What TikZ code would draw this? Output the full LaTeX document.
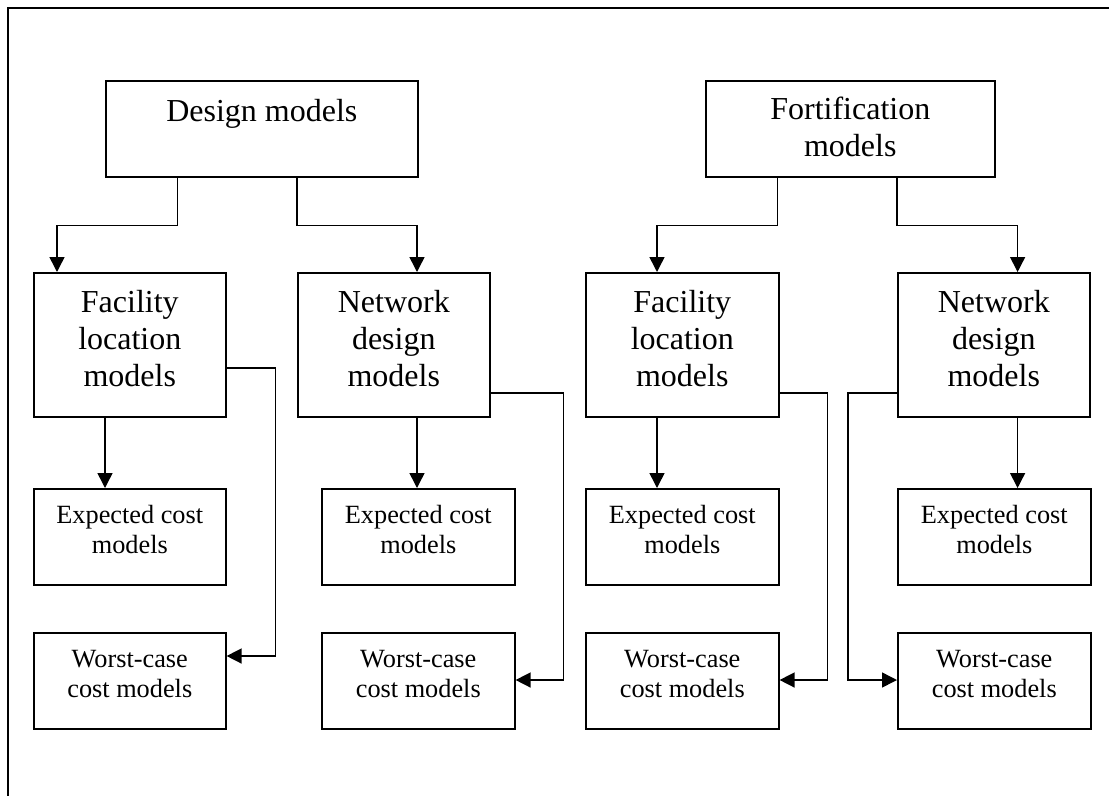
\documentclass[tikz,border=0pt]{standalone}
\usepackage{fontspec}
\setmainfont{Liberation Serif}
\usetikzlibrary{arrows.meta,calc}
% box contents: width, height, depth of first baseline below the top, text
\newcommand{\boxlines}[4]{\parbox[c][#2][t]{#1}{\centering\rule{0pt}{#3}#4}}
\begin{document}
\begin{tikzpicture}[x=1pt,y=-1pt,
  frame/.style={line width=1.6pt},
  box/.style={draw, line width=1.6pt, inner sep=0pt, anchor=north west},
  big/.style={box, font=\fontsize{32}{37}\selectfont},
  small/.style={box, font=\fontsize{26.3}{30}\selectfont},
  link/.style={line width=1.5pt, -{Triangle[length=15pt,width=15pt]}},
]
\useasboundingbox (0,0) rectangle (1109,796);

% outer frame
\draw[frame] (1109,8) -- (8,8) -- (8,796);

% top level
\node[big] (design) at (105,80) {\boxlines{312pt}{96pt}{40.7pt}{Design models}};
\node[big] (fort)   at (705,80) {\boxlines{289pt}{96pt}{39pt}{Fortification\\models}};

% second level
\node[big] (flL) at (33,272)  {\boxlines{192pt}{144pt}{40pt}{Facility\\location\\models}};
\node[big] (ndL) at (297,272) {\boxlines{192pt}{144pt}{40pt}{Network\\design\\models}};
\node[big] (flR) at (585,272) {\boxlines{193pt}{144pt}{40pt}{Facility\\location\\models}};
\node[big] (ndR) at (897,272) {\boxlines{192pt}{144pt}{40pt}{Network\\design\\models}};

% third level
\node[small] (ecL1) at (33,488)  {\boxlines{192pt}{96pt}{35pt}{Expected cost\\models}};
\node[small] (wcL1) at (33,632)  {\boxlines{192pt}{96pt}{35pt}{Worst-case\\cost models}};
\node[small] (ecL2) at (321,488) {\boxlines{193pt}{96pt}{35pt}{Expected cost\\models}};
\node[small] (wcL2) at (321,632) {\boxlines{193pt}{96pt}{35pt}{Worst-case\\cost models}};
\node[small] (ecR1) at (585,488) {\boxlines{193pt}{96pt}{35pt}{Expected cost\\models}};
\node[small] (wcR1) at (585,632) {\boxlines{193pt}{96pt}{35pt}{Worst-case\\cost models}};
\node[small] (ecR2) at (897,488) {\boxlines{193pt}{96pt}{35pt}{Expected cost\\models}};
\node[small] (wcR2) at (897,632) {\boxlines{193pt}{96pt}{35pt}{Worst-case\\cost models}};

% top level to second level
\draw[link] ($(design.south west)+(72.5,0)$) -- ++(0,48) -| ($(flL.north west)+(24,0)$);
\draw[link] ($(design.south west)+(192,0)$) -- ++(0,48) -| ($(ndL.north west)+(120,0)$);
\draw[link] ($(fort.south west)+(72.6,0)$) -- ++(0,48) -| ($(flR.north west)+(72,0)$);
\draw[link] ($(fort.south west)+(192,0)$) -- ++(0,48) -| ($(ndR.north west)+(120.6,0)$);

% second level to expected cost models
\draw[link] ($(flL.south west)+(72,0)$) -- ($(ecL1.north west)+(72,0)$);
\draw[link] ($(ndL.south west)+(120,0)$) -- ($(ecL2.north west)+(96,0)$);
\draw[link] ($(flR.south west)+(72,0)$) -- ($(ecR1.north west)+(72,0)$);
\draw[link] ($(ndR.south west)+(120.6,0)$) -- ($(ecR2.north west)+(120.6,0)$);

% second level to worst-case cost models
\draw[link] ($(flL.north east)+(0,96)$) -- ++(49,0) |- ($(wcL1.north east)+(0,24)$);
\draw[link] ($(ndL.north east)+(0,121)$) -- ++(73,0) |- ($(wcL2.north east)+(0,48)$);
\draw[link] ($(flR.north east)+(0,121)$) -- ++(48,0) |- ($(wcR1.north east)+(0,48)$);
\draw[link] ($(ndR.north west)+(0,121)$) -- ++(-49,0) |- ($(wcR2.north west)+(0,48)$);
\end{tikzpicture}
\end{document}
